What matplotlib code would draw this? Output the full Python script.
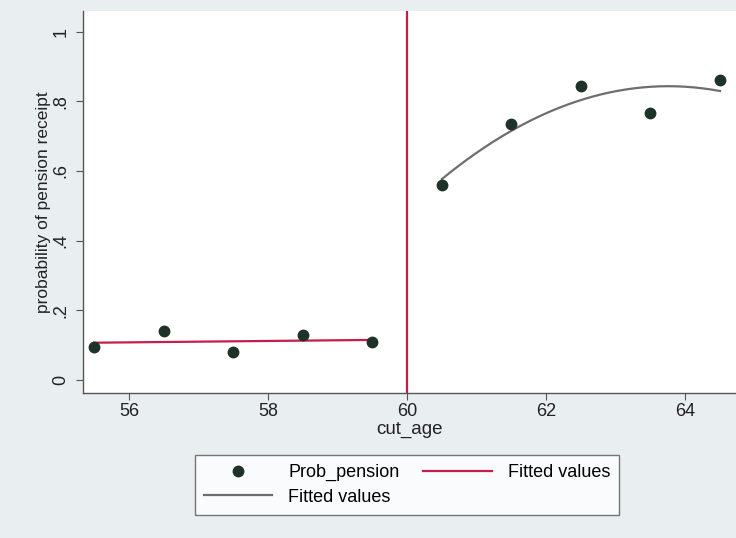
import matplotlib
matplotlib.use("Agg")
import matplotlib.pyplot as plt
import numpy as np

plt.rcParams['font.family'] = ['Liberation Sans', 'DejaVu Sans']

# Data
cut_age = [55.5, 56.5, 57.5, 58.5, 59.5, 60.5, 61.5, 62.5, 63.5, 64.5]
prob_pension = [0.095, 0.14, 0.08, 0.13, 0.11, 0.56, 0.735, 0.845, 0.767, 0.86]
cutoff = 60
x_ticks = [56, 58, 60, 62, 64]
y_ticks = [0, 0.2, 0.4, 0.6, 0.8, 1.0]
y_tick_labels = ["0", ".2", ".4", ".6", ".8", "1"]

bg = "#E9EFF1"
fig = plt.figure(figsize=(7.36, 5.38), dpi=100, facecolor=bg)
ax = fig.add_axes([0.1128, 0.2695, 0.8872, 0.7105])
ax.set_facecolor("white")

xa = np.array(cut_age)
ya = np.array(prob_pension)
left = xa < cutoff
right = xa > cutoff

# linear fit on the left (lfit), quadratic on the right (qfit)
cl = np.polyfit(xa[left], ya[left], 1)
xl = np.linspace(xa[left].min(), xa[left].max(), 100)
cr = np.polyfit(xa[right], ya[right], 2)
xr = np.linspace(xa[right].min(), xa[right].max(), 200)

sc, = ax.plot(xa, ya, 'o', color="#1E3328", markersize=7.5, linestyle='none',
              label="Prob_pension", zorder=4)
red, = ax.plot(xl, np.polyval(cl, xl), color="#C41E4A", lw=1.6,
               label="Fitted values", zorder=3)
gray, = ax.plot(xr, np.polyval(cr, xr), color="#6E6E6E", lw=1.6,
                label="Fitted values", zorder=3)
ax.axvline(cutoff, color="#C41E4A", lw=1.6, zorder=2)

ax.set_xlim(55.34, 64.73)
ax.set_ylim(-0.0374, 1.06)
ax.set_xticks(x_ticks)
ax.set_yticks(y_ticks)
ax.set_yticklabels(y_tick_labels, rotation=90, va='center')
ax.tick_params(axis='both', colors="#555555", labelcolor="#222222",
               labelsize=13, length=5, width=0.8)
ax.tick_params(axis='x', pad=2)
ax.tick_params(axis='y', pad=5)

for s in ['top', 'right']:
    ax.spines[s].set_visible(False)
for s in ['left', 'bottom']:
    ax.spines[s].set_color("#555555")
    ax.spines[s].set_linewidth(1.0)

ax.set_xlabel("cut_age", fontsize=13.5, color="#222222", labelpad=1)
ax.set_ylabel("probability of pension receipt", fontsize=12.5,
              color="#222222", labelpad=1)

leg = fig.legend(handles=[sc, gray, red], ncol=2, loc='center',
                 bbox_to_anchor=(0.553, 0.0985), fontsize=13,
                 frameon=True, fancybox=False, edgecolor="#555555",
                 handlelength=3.8, columnspacing=1.3, handletextpad=0.9,
                 labelspacing=0.4, borderpad=0.5)
leg.get_frame().set_linewidth(1.0)

fig.savefig("out.png", dpi=100, facecolor=bg)
